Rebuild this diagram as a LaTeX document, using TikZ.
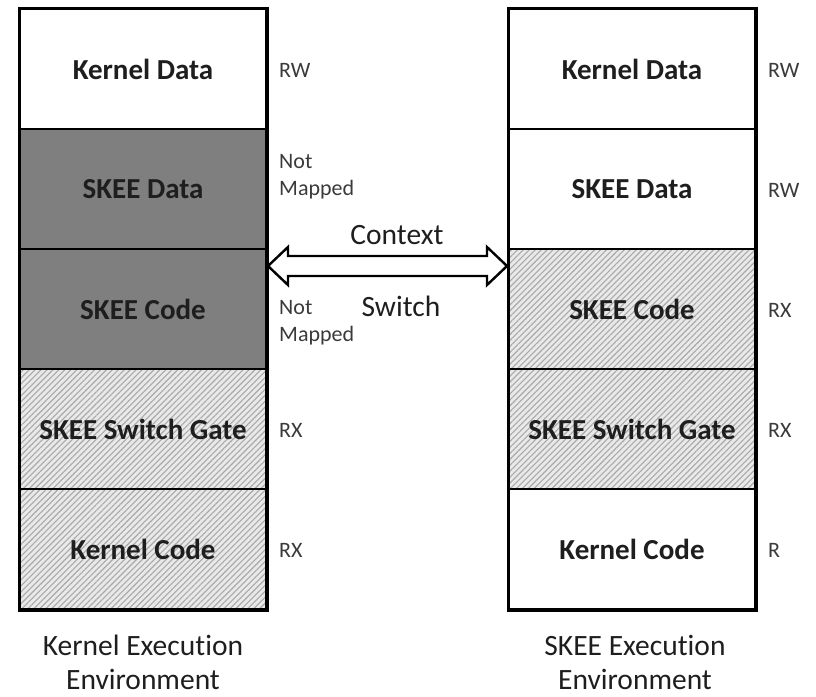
\documentclass[tikz,border=0pt]{standalone}
\usepackage{fontspec}
\setmainfont{Carlito}[Ligatures=NoCommon]
\usetikzlibrary{calc,patterns.meta}

\definecolor{txt}{HTML}{1E1E1E}
\definecolor{permtxt}{HTML}{3A3A3A}
\definecolor{darkfill}{HTML}{7F7F7F}
\definecolor{hatchbg}{HTML}{E9E9E9}
\definecolor{hatchline}{HTML}{A9A9A9}

\tikzset{
  region/.style={draw=black, line width=2pt, minimum width=246pt, minimum height=120pt,
    inner sep=0pt, text=txt, font=\fontsize{29}{33}\selectfont\bfseries},
  plain/.style={region, fill=white},
  unmapped/.style={region, fill=darkfill},
  hatched/.style={region, preaction={fill=hatchbg},
    preaction={pattern={Lines[angle=45,distance=4.2pt,line width=1.1pt]}, pattern color=hatchline}},
  perm/.style={anchor=west, inner sep=0pt, text=permtxt, align=left,
    font=\fontsize{22}{27}\selectfont},
  caption/.style={align=center, inner sep=0pt, text=txt, font=\fontsize{29.5}{34}\selectfont},
  frame/.style={draw=black, line width=3pt},
  bigarrow/.style={draw=black, line width=2.4pt, fill=white, line join=miter},
}

\begin{document}
\begin{tikzpicture}[x=1pt, y=-1pt]
  \useasboundingbox (0,0) rectangle (816,696);

  % kernel execution environment
  \node[plain]    (lkd) at (143, 69)  {Kernel Data};
  \node[unmapped] (lsd) at (143, 189) {SKEE Data};
  \node[unmapped] (lsc) at (143, 309) {SKEE Code};
  \node[hatched]  (lsg) at (143, 429) {SKEE Switch Gate};
  \node[hatched]  (lkc) at (143, 549) {Kernel Code};
  \draw[frame] (lkd.north west) rectangle (lkc.south east);

  % SKEE execution environment
  \node[plain]    (rkd) at (632, 69)  {Kernel Data};
  \node[plain]    (rsd) at (632, 189) {SKEE Data};
  \node[hatched]  (rsc) at (632, 309) {SKEE Code};
  \node[hatched]  (rsg) at (632, 429) {SKEE Switch Gate};
  \node[plain]    (rkc) at (632, 549) {Kernel Code};
  \draw[frame] (rkd.north west) rectangle (rkc.south east);

  % access permissions, left column
  \node[perm] (pl1) at (279, 70)  {RW};
  \node[perm] (pl2) at (279, 177) {Not\\Mapped};
  \node[perm] (pl3) at (279, 323) {Not\\Mapped};
  \node[perm] (pl4) at (279, 430) {RX};
  \node[perm] (pl5) at (279, 550) {RX};

  % access permissions, right column
  \node[perm] (pr1) at (768, 70)  {RW};
  \node[perm] (pr2) at (768, 190) {RW};
  \node[perm] (pr3) at (768, 310) {RX};
  \node[perm] (pr4) at (768, 430) {RX};
  \node[perm] (pr5) at (768, 550) {R};

  % context switch double arrow
  \coordinate (aL) at ($(lsc.north east)+(1,18)$);
  \coordinate (aR) at ($(rsc.north west)+(-1,18)$);
  \draw[bigarrow] (aL) -- ($(aL)+(20,-19)$) -- ($(aL)+(20,-10)$)
    -- ($(aR)+(-20,-10)$) -- ($(aR)+(-20,-19)$) -- (aR)
    -- ($(aR)+(-20,19)$) -- ($(aR)+(-20,10)$)
    -- ($(aL)+(20,10)$) -- ($(aL)+(20,19)$) -- cycle;
  \node[caption] (ctx) at (397, 235) {Context};
  \node[caption] (swt) at (401, 306) {Switch};

  % environment captions
  \node[caption] (lenv) at (143, 662) {Kernel Execution\\Environment};
  \node[caption] (renv) at (635, 662) {SKEE Execution\\Environment};
\end{tikzpicture}
\end{document}
